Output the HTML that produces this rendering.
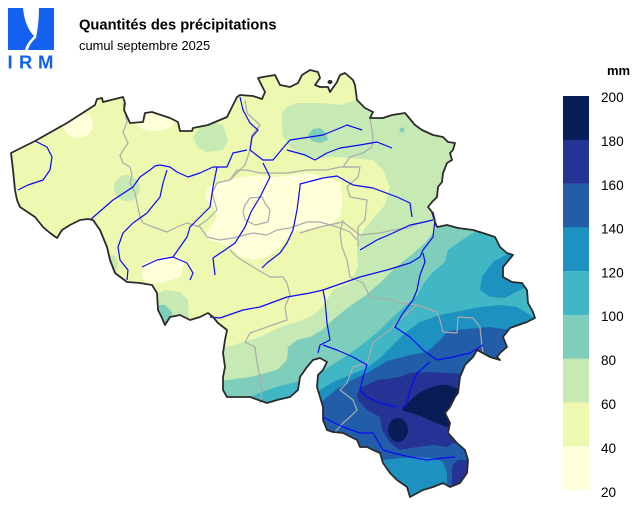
<!DOCTYPE html>
<html><head><meta charset="utf-8"><style>
html,body{margin:0;padding:0;background:#fff;}
svg{display:block;font-family:"Liberation Sans",Arial,sans-serif;}
</style></head><body>
<svg width="640" height="507" viewBox="0 0 640 507" xmlns="http://www.w3.org/2000/svg">
<defs>
<clipPath id="be"><path id="bep" d="M11,153 L35,141 67,123 95,105 97,99 102,98 103,102 123,97 125,103 124,110 130,123 143,122 145,113 152,112 170,118 178,122 180,131 192,131 193,128 208,125 227,117 237,97 240,95 253,96 262,99 265,92 258,78 263,77 275,75 280,85 290,87 298,83 302,75 310,70 318,72 320,78 315,85 320,87 328,87 330,92 337,82 340,75 345,73 353,80 355,85 357,100 365,108 373,112 370,118 383,118 392,115 405,113 415,125 422,130 433,135 443,137 448,142 455,143 453,150 450,153 452,160 447,163 443,173 442,182 438,187 437,197 432,202 428,207 432,212 433,215 435,222 437,227 447,225 458,228 473,230 483,233 495,237 500,247 507,253 513,255 503,267 503,277 512,282 522,283 527,290 528,303 533,312 535,318 527,322 510,328 503,337 507,347 500,353 497,357 500,360 490,357 477,350 473,357 465,365 460,377 458,393 455,397 450,407 445,413 450,423 448,433 457,443 465,450 468,460 467,473 460,483 450,487 443,483 433,487 423,490 410,497 407,487 397,480 390,473 383,463 380,453 373,450 367,447 360,447 357,440 343,433 333,432 327,430 323,420 323,407 320,397 317,387 318,375 323,370 327,362 320,358 313,360 307,367 300,377 298,390 290,397 277,400 267,403 250,397 227,397 223,390 223,377 225,367 223,353 225,340 227,330 218,323 213,317 208,313 200,317 190,320 180,315 170,317 165,325 162,318 158,310 157,293 152,285 140,283 127,282 115,273 110,260 107,247 100,230 93,220 88,219 80,220 70,225 62,230 57,238 50,233 43,227 35,217 20,207 17,200 15,190 13,170 Z"/></clipPath>
</defs>

<!-- logo -->
<path d="M8,8 L23,8 C24,20 28,30 34,36 C30,40 26,45 25,50 L8,50 Z" fill="#1460f0"/>
<path d="M39,8 L54,8 L54,50 L28,50 C29,46 32,41 36,38 C38,28 39,18 39,8 Z" fill="#1460f0"/>
<text x="7.5" y="68.5" font-size="18.5" fill="#1460f0" font-weight="bold">I</text>
<text x="19" y="68.5" font-size="18.5" fill="#1460f0" font-weight="bold">R</text>
<text x="38" y="68.5" font-size="18.5" fill="#1460f0" font-weight="bold">M</text>

<!-- titles -->
<text x="79" y="29.5" font-size="14.7" font-weight="bold" fill="#000">Quantités des précipitations</text>
<text x="79" y="50" font-size="12.9" fill="#000">cumul septembre 2025</text>

<!-- map fills -->
<g clip-path="url(#be)">
<rect x="0" y="0" width="640" height="507" fill="#edf8b1"/>
<g fill="#ffffd9">
<ellipse cx="78" cy="125" rx="15" ry="13"/>
<ellipse cx="155" cy="121" rx="20" ry="10"/>
<polygon points="207,190 213,183 230,180 243,177 260,175 277,177 293,175 307,173 327,177 340,182 343,200 340,217 327,227 313,228 293,232 280,247 267,257 253,260 240,257 230,247 220,243 210,240 205,237 210,227 217,217 213,207 205,198"/>
<polygon points="143,263 160,257 177,255 184,262 180,277 163,283 147,284 142,277"/>
</g>
<g fill="#c7e9b4">
<polygon points="193,137 200,127 213,122 223,125 228,140 223,150 207,152 197,147"/>
<ellipse cx="127" cy="188" rx="13" ry="13"/>
<ellipse cx="112" cy="265" rx="6" ry="10"/>
<polygon points="155,295 165,290 180,292 188,300 189,318 160,324"/>
<polygon points="282,113 287,107 297,103 320,103 340,105 350,102 356,100 366,108 450,40 640,40 640,520 200,520 200,350 227,347 240,343 260,337 280,327 297,322 310,317 320,310 327,300 333,290 350,283 358,267 357,250 360,235 370,222 385,205 390,187 383,170 373,160 340,157 307,158 290,147 283,137 282,127"/>
</g>
<g fill="#7fcdbb">
<polygon points="155,305 165,305 172,312 170,326 155,326"/>
<polygon points="308,135 313,129 320,128 326,133 328,140 320,143 312,141"/>
<circle cx="402" cy="130" r="2.5"/>
<polygon points="437,228 445,220 640,200 640,520 200,520 200,382 227,380 250,377 277,370 287,360 288,347 297,340 310,337 322,330 335,318 350,306 365,296 380,283 395,268 410,256 425,243"/>
</g>
<polygon fill="#41b6c4" points="475,232 480,220 640,200 640,520 200,520 200,410 240,405 250,397 267,390 280,386 300,381 310,380 318,375 327,368 340,360 355,350 368,340 380,330 392,318 405,306 417,296 423,284 433,272 445,262 448,250 462,240"/>
<g fill="#1d91c0">
<polygon points="515,250 493,262 482,277 480,290 490,297 505,298 520,290 535,283"/>
<polygon points="640,318 535,318 517,307 500,305 480,307 460,311 440,315 420,322 405,333 393,345 380,358 367,368 350,375 333,382 320,390 312,400 312,520 640,520"/>
</g>
<polygon fill="#225ea8" points="640,330 540,328 510,330 490,327 467,329 448,331 440,340 427,352 410,355 387,361 367,373 350,381 337,389 327,397 318,405 310,410 310,520 640,520"/>
<polygon fill="#1d91c0" points="375,461 383,460 400,458 417,457 433,458 443,462 447,473 447,483 443,490 437,497 400,510 375,505"/>
<g fill="#253494">
<polygon points="357,395 360,388 377,380 400,377 410,373 430,372 447,373 470,374 470,445 453,443 447,447 433,445 417,447 400,450 390,443 382,430 380,417 367,410 358,400"/>
<polygon points="452,466 458,460 472,460 472,487 452,487"/>
</g>
<g fill="#081d58">
<path d="M402,410 C410,400 418,392 427,389 C433,386 440,384 447,385 C452,386 456,388 460,390 L458,420 C455,424 451,427 447,427 C441,425 437,423 433,422 C427,419 421,416 417,415 C412,413 406,412 402,410 Z"/>
<ellipse cx="398" cy="430" rx="10" ry="12"/>
</g>
</g>

<!-- province borders -->
<g fill="none" stroke="#ababab" stroke-width="1.2" stroke-linejoin="round">
<polyline points="123,103 127,122 123,132 128,143 120,155 123,163 130,167 132,175 130,183 135,193 137,203 140,217 143,223"/>
<polyline points="143,223 153,227 167,232 177,227 187,223 200,227 207,237 220,240 233,238 253,233 267,235 277,230 290,228 307,222 320,222 337,227 350,232 357,240"/>
<polyline points="230,180 237,170 247,170 260,173 287,173 307,170 327,170 340,167 357,167"/>
<polyline points="245,100 247,113 260,125 252,135 250,150 245,165 240,170 230,180 217,183 212,193 217,210 207,220 197,227"/>
<polygon points="245,205 250,198 262,197 265,203 270,210 268,222 255,225 245,220 243,212"/>
<polyline points="370,118 373,137 372,147 363,153 350,157 343,167 360,167 358,177 347,187 350,197 367,200 365,220 358,227 358,247"/>
<polyline points="343,220 340,233 342,247 347,260 350,277 363,283 370,297 393,300 400,303 417,305"/>
<polyline points="300,233 320,227 343,222 360,235 380,233 393,230 407,228 420,223 433,220"/>
<polyline points="230,250 237,257 253,267 270,277 283,277 287,283 290,295 285,307 287,320 267,327 250,333 245,342 255,347 257,363 260,377 262,390 260,403"/>
<polyline points="417,305 397,322 390,330 380,337 373,343 370,353 367,363 353,367 347,383 340,390 353,400 357,410 350,417 343,423 335,432"/>
<polyline points="417,305 437,312 440,320 443,332 457,333 458,317 473,318 480,327 482,347 483,352"/>
</g>

<!-- rivers -->
<g fill="none" stroke="#0a0af5" stroke-width="1.2" stroke-linejoin="round">
<polyline points="35,141 47,147 52,157 50,170 43,180 28,185 18,190"/>
<polyline points="90,220 113,200 133,187 140,177 150,170 155,166 160,165 170,167 177,172 188,177 200,173 213,167 227,167 230,160 233,153 247,150"/>
<polyline points="167,170 163,183 160,197 147,213 133,223 123,233 118,247 120,260 128,270 127,280"/>
<polyline points="142,267 157,260 173,257 180,247 187,237 190,227 200,217 210,207 213,187 217,167"/>
<polyline points="173,257 187,263 193,273 190,280"/>
<polyline points="215,275 213,258 225,250 235,243 245,227 251,212 260,197 267,183 270,177 263,163"/>
<polyline points="262,268 267,263 280,253 287,243 293,230 297,210 300,187 300,184 323,178 337,176 353,185 373,188 397,197 410,203 412,217"/>
<polyline points="283,148 290,140 310,137 323,135 340,128 347,125 362,130"/>
<polyline points="287,150 305,155 315,160 327,153 340,148 360,145 377,142 392,148"/>
<polyline points="240,97 243,110 250,123 258,130 252,137 250,150 263,160 273,160 283,148"/>
<polyline points="210,317 220,318 243,310 260,307 287,297 310,293 323,290 343,283 360,277 387,270 410,263 420,257 423,250 433,237 435,220 433,212"/>
<polyline points="423,253 425,262 420,275 417,290 413,300 403,313 395,327 410,337 423,350 437,360 453,357 470,353 483,345"/>
<polyline points="430,362 417,373 410,390 407,403 402,408"/>
<polyline points="323,290 325,300 327,323 330,340 320,345 318,353"/>
<polyline points="323,345 337,350 353,357 367,365 363,377 360,390 367,397 380,403 397,407"/>
<polyline points="323,417 343,427 360,433 373,433 383,450 393,453 410,457 427,460 443,458 455,457"/>
<polyline points="360,250 377,240 393,233 410,225 420,223 433,220"/>
</g>

<!-- country outline -->
<use href="#bep" fill="none" stroke="#2b2b2b" stroke-width="1.8" stroke-linejoin="round"/>
<ellipse cx="330" cy="82" rx="2.5" ry="2" fill="#2b2b2b"/>

<!-- legend -->
<text x="607" y="75" font-size="13" font-weight="bold" fill="#000">mm</text>
<rect x="563" y="96" width="26" height="44" fill="#081d58"/>
<rect x="563" y="139.8" width="26" height="44" fill="#253494"/>
<rect x="563" y="183.6" width="26" height="44" fill="#225ea8"/>
<rect x="563" y="227.3" width="26" height="44" fill="#1d91c0"/>
<rect x="563" y="271.1" width="26" height="44" fill="#41b6c4"/>
<rect x="563" y="314.9" width="26" height="44" fill="#7fcdbb"/>
<rect x="563" y="358.7" width="26" height="44" fill="#c7e9b4"/>
<rect x="563" y="402.4" width="26" height="44" fill="#edf8b1"/>
<rect x="563" y="446.2" width="26" height="43.8" fill="#ffffd9"/>
<g font-size="13.6" fill="#000">
<text x="601" y="102">200</text>
<text x="601" y="146">180</text>
<text x="601" y="190">160</text>
<text x="601" y="233.5">140</text>
<text x="601" y="277.5">120</text>
<text x="601" y="321">100</text>
<text x="601" y="365">80</text>
<text x="601" y="409">60</text>
<text x="601" y="453">40</text>
<text x="601" y="497">20</text>
</g>
</svg>
</body></html>
